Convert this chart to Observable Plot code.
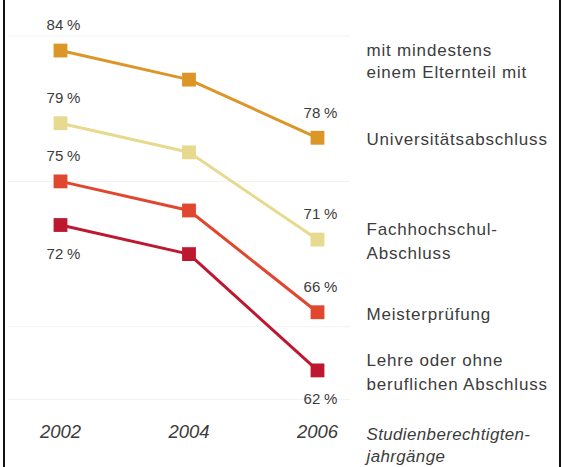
<!DOCTYPE html>
<html>
<head>
<meta charset="utf-8">
<script src="https://cdn.jsdelivr.net/npm/d3@7"></script>
<script src="https://cdn.jsdelivr.net/npm/@observablehq/plot@0.6"></script>
<style>
  html, body { margin: 0; padding: 0; background: #fff; }
  #wrap { position: relative; width: 564px; height: 467px; overflow: hidden; background: #fff; }
  #wrap svg { position: absolute; left: 0; top: 0; }
  .vline { position: absolute; top: 0; width: 2px; height: 467px; background: #111; }
  #wrap svg g[font-size="17"] { letter-spacing: 0.8px; }
  #wrap svg g[font-size="16.9"] { letter-spacing: 0.4px; }
  #wrap svg g[font-size="15"] { letter-spacing: 0.3px; }
</style>
</head>
<body>
<div id="wrap">
  <div class="vline" style="left:3px"></div>
  <div class="vline" style="left:559px"></div>
</div>
<script>
const years = [2002, 2004, 2006];
const seriesNames = ["Universitätsabschluss", "Fachhochschul-\nAbschluss", "Meisterprüfung", "Lehre oder ohne\nberuflichen Abschluss"];
const universitaet = [84, 82, 78];
const fachhochschule = [79, 77, 71];
const meister = [75, 73, 66];
const lehre = [72, 70, 62];
const seriesColors = ["#dc9628", "#e7d98e", "#e1462f", "#be1831"];
const gridTicks = [60, 65, 75, 85];
const legendHeader = "mit mindestens\neinem Elternteil mit";
const axisLabel = "Studienberechtigten-\njahrgänge";

const valuesList = [universitaet, fachhochschule, meister, lehre];
const rows = [];
valuesList.forEach((vals, i) => {
  vals.forEach((v, j) => rows.push({series: seriesNames[i], idx: i, year: years[j], value: v, j}));
});
const lastYear = years[years.length - 1];
const labelRows = rows.filter(d => d.j === 0 || d.j === years.length - 1);
const aboveLabels = labelRows.filter(d => d.idx < valuesList.length - 1);
const belowLabels = labelRows.filter(d => d.idx === valuesList.length - 1);
const legendRows = rows.filter(d => d.j === years.length - 1);
const fmt = d => `${d.value}\u2009%`;
const font = "'Liberation Sans', Arial, sans-serif";
const textColor = "#3c3c3c";

const chart = Plot.plot({
  width: 564,
  height: 467,
  marginLeft: 60,
  marginRight: 247,
  marginTop: 35.5,
  marginBottom: 68,
  style: {fontFamily: font, background: "transparent", color: textColor},
  x: {type: "linear", domain: [years[0], lastYear], label: null},
  y: {domain: [60, 85], axis: null},
  color: {domain: seriesNames, range: seriesColors},
  marks: [
    Plot.ruleY(gridTicks, {stroke: "#f2f2f2", strokeWidth: 1, insetLeft: -52, insetRight: -33}),
    Plot.axisX({ticks: years, tickFormat: d => String(d), tickSize: 0, tickPadding: 25, label: null,
      fontSize: 18.5, fontStyle: "italic", fill: textColor}),
    Plot.line(rows, {x: "year", y: "value", z: "series", stroke: "series", strokeWidth: 3}),
    Plot.dot(rows, {x: "year", y: "value", fill: "series", symbol: "square", r: 7.8}),
    Plot.text(aboveLabels, {x: "year", y: "value", text: fmt, dy: -25, dx: 3, fontSize: 15, fill: textColor}),
    Plot.text(belowLabels, {x: "year", y: "value", text: fmt, dy: 29, dx: 3, fontSize: 15, fill: textColor}),
    Plot.text(legendRows, {x: "year", y: "value", text: "series", dx: 49, textAnchor: "start",
      lineAnchor: "middle", lineHeight: 1.4, fontSize: 17, fill: textColor}),
    Plot.text([legendHeader], {x: () => lastYear, frameAnchor: "top", dx: 49, dy: 23.5, textAnchor: "start",
      lineAnchor: "middle", lineHeight: 1.3, fontSize: 17, fill: textColor}),
    Plot.text([axisLabel], {x: () => lastYear, frameAnchor: "bottom", dx: 49, dy: 44, textAnchor: "start",
      lineAnchor: "middle", lineHeight: 1.3, fontSize: 16.9, fontStyle: "italic", fill: textColor})
  ]
});
document.getElementById("wrap").appendChild(chart);
</script>
</body>
</html>
